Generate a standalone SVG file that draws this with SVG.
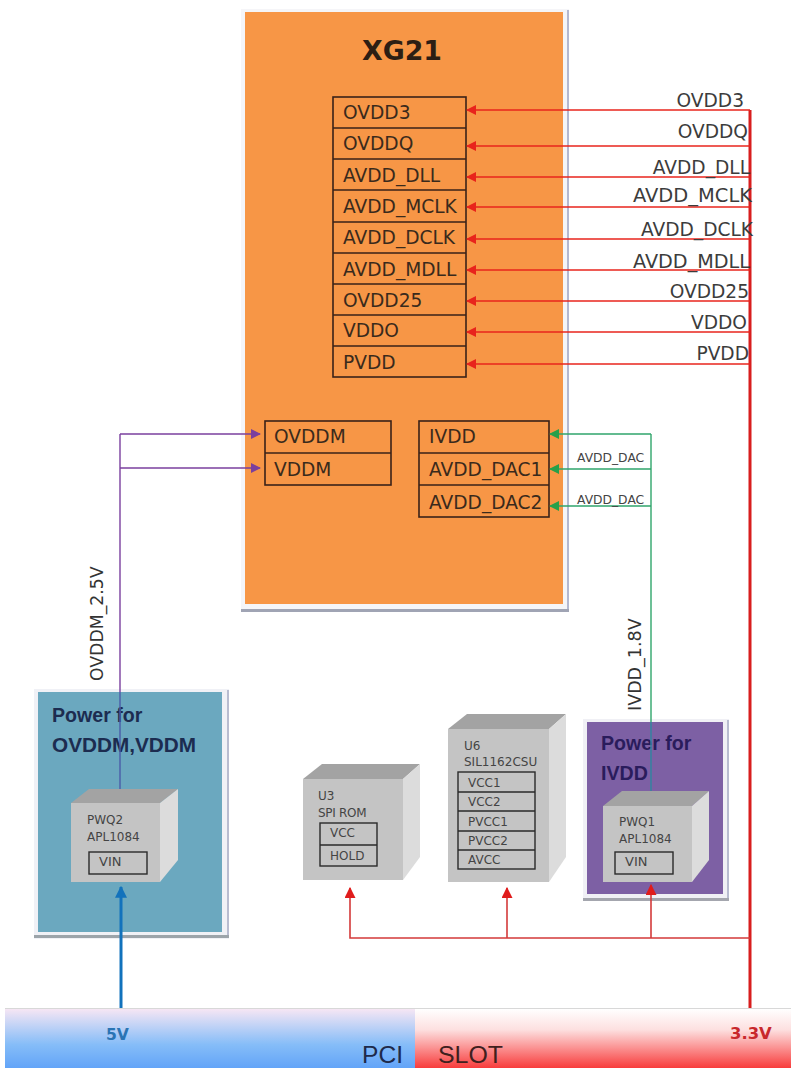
<svg xmlns="http://www.w3.org/2000/svg" width="791" height="1068" viewBox="0 0 791 1068">
<style>
text{font-family:"DejaVu Sans",Verdana,sans-serif;fill:#3a2a1c}
.cell{fill:none;stroke:#3a2218;stroke-width:1.6}
.t{font-size:18.6px}
.lab{font-size:18.6px;text-anchor:end;fill:#3c3c3c}
.sm{font-size:12px;fill:#444}
.dac{font-size:12.3px;fill:#444}
.front{fill:#c4c4c4}.top{fill:#a3a3a3}.side{fill:#dcdcdc}
.inner{fill:none;stroke:#2a2a2a;stroke-width:1.4}
.pw{font-family:"Liberation Sans",Arial,sans-serif;font-weight:bold;font-size:19.6px;fill:#1c2c50}
.red{stroke:#e8241c;stroke-width:1.6;fill:none}
.grn{stroke:#2fa56b;stroke-width:1.4;fill:none}
.pur{stroke:#7a3f9e;stroke-width:1.4;fill:none}
</style>
<defs>
<linearGradient id="gb" x1="0" y1="0" x2="0" y2="1"><stop offset="0" stop-color="#f6e6f4"/><stop offset="0.6" stop-color="#86bdf8"/><stop offset="1" stop-color="#62a4f8"/></linearGradient>
<linearGradient id="gr" x1="0" y1="0" x2="0" y2="1"><stop offset="0" stop-color="#ffffff"/><stop offset="0.35" stop-color="#fde0e0"/><stop offset="1" stop-color="#f83c3c"/></linearGradient>
<marker id="ar" viewBox="0 0 10 10" refX="9" refY="5" markerWidth="11" markerHeight="10" markerUnits="userSpaceOnUse" orient="auto"><path d="M0 0L10 5L0 10z" fill="#e8241c"/></marker>
<marker id="ag" viewBox="0 0 10 10" refX="9" refY="5" markerWidth="11" markerHeight="10" markerUnits="userSpaceOnUse" orient="auto"><path d="M0 0L10 5L0 10z" fill="#27a04a"/></marker>
<marker id="ap" viewBox="0 0 10 10" refX="9" refY="5" markerWidth="11" markerHeight="10" markerUnits="userSpaceOnUse" orient="auto"><path d="M0 0L10 5L0 10z" fill="#7a3f9e"/></marker>
<marker id="au" viewBox="0 0 10 10" refX="9" refY="5" markerWidth="11" markerHeight="11" markerUnits="userSpaceOnUse" orient="auto"><path d="M0 0L10 5L0 10z" fill="#e01c1c"/></marker>
<marker id="ab" viewBox="0 0 10 10" refX="9" refY="5" markerWidth="12" markerHeight="12" markerUnits="userSpaceOnUse" orient="auto"><path d="M0 0L10 5L0 10z" fill="#1272bc"/></marker>
</defs>
<rect width="791" height="1068" fill="#fff"/>

<g id="xg21">
<rect x="241" y="9" width="328" height="603" fill="#f5f5f8"/>
<rect x="567" y="10" width="2" height="602" fill="#b4b8d0"/>
<rect x="241" y="609" width="328" height="3" fill="#a0a4b4"/>
<rect x="245" y="12" width="318" height="592" fill="#f79646"/>
<text x="362" y="60" textLength="80" lengthAdjust="spacingAndGlyphs" style="font-weight:bold;font-size:27px;fill:#2c1e14">XG21</text>
</g>

<g id="supply-table">
<rect class="cell" x="333" y="97" width="133" height="280"/>
<path class="cell" d="M333 128H466M333 159H466M333 190H466M333 222H466M333 253H466M333 284H466M333 315H466M333 346H466"/>
<text class="t" x="343" y="119">OVDD3</text>
<text class="t" x="343" y="150">OVDDQ</text>
<text class="t" x="343" y="182">AVDD_DLL</text>
<text class="t" x="343" y="213">AVDD_MCLK</text>
<text class="t" x="343" y="244">AVDD_DCLK</text>
<text class="t" x="343" y="276">AVDD_MDLL</text>
<text class="t" x="343" y="307">OVDD25</text>
<text class="t" x="343" y="337">VDDO</text>
<text class="t" x="343" y="369">PVDD</text>
</g>

<g id="mem-table">
<rect class="cell" x="265" y="421" width="126" height="64"/>
<path class="cell" d="M265 453H391"/>
<text class="t" x="274" y="443">OVDDM</text>
<text class="t" x="274" y="476">VDDM</text>
</g>

<g id="dac-table">
<rect class="cell" x="419" y="421" width="130" height="96"/>
<path class="cell" d="M419 453H549M419 485H549"/>
<text class="t" x="429" y="443">IVDD</text>
<text class="t" x="429" y="476">AVDD_DAC1</text>
<text class="t" x="429" y="509">AVDD_DAC2</text>
</g>

<g id="power-ovddm">
<rect x="34" y="689" width="195" height="250" fill="#f0f1f6"/>
<rect x="227" y="690" width="2" height="248" fill="#b8bcd0"/>
<rect x="34" y="935" width="195" height="3" fill="#9ca4aa"/>
<rect x="38" y="692" width="184" height="240" fill="#6ba8bf"/>
<text class="pw" x="52" y="722">Power for</text>
<text class="pw" x="52" y="752" textLength="144" lengthAdjust="spacingAndGlyphs">OVDDM,VDDM</text>
<polygon class="top" points="71,803 89,789 178,789 160,803"/>
<polygon class="side" points="160,803 178,789 178,860 160,882"/>
<rect class="front" x="71" y="803" width="89" height="79"/>
<text class="sm" x="87" y="824">PWQ2</text>
<text class="sm" x="87" y="841">APL1084</text>
<rect class="inner" x="89" y="852" width="58" height="22"/>
<text class="sm" x="99" y="866" style="font-size:13px">VIN</text>
</g>

<g id="u3">
<polygon class="top" points="303,779 322,764 420,764 403,779"/>
<polygon class="side" points="403,779 420,764 420,857 403,880"/>
<rect class="front" x="303" y="779" width="100" height="101"/>
<text class="sm" x="318" y="800">U3</text>
<text class="sm" x="318" y="817" letter-spacing="-0.3">SPI ROM</text>
<rect class="inner" x="320" y="823" width="57" height="43"/>
<path class="inner" d="M320 845H377"/>
<text class="sm" x="330" y="837">VCC</text>
<text class="sm" x="330" y="860">HOLD</text>
</g>

<g id="u6">
<polygon class="top" points="448,729 467,714 566,714 549,729"/>
<polygon class="side" points="549,729 566,714 566,857 549,882"/>
<rect class="front" x="448" y="729" width="101" height="153"/>
<text class="sm" x="464" y="750">U6</text>
<text class="sm" x="464" y="766">SIL1162CSU</text>
<rect class="inner" x="458" y="772" width="77" height="97"/>
<path class="inner" d="M458 792H535M458 811H535M458 831H535M458 850H535"/>
<text class="sm" x="468" y="787">VCC1</text>
<text class="sm" x="468" y="806">VCC2</text>
<text class="sm" x="468" y="826">PVCC1</text>
<text class="sm" x="468" y="845">PVCC2</text>
<text class="sm" x="468" y="864">AVCC</text>
</g>

<g id="power-ivdd">
<rect x="583" y="719" width="146" height="182" fill="#f0f0f5"/>
<rect x="727" y="720" width="2" height="181" fill="#b8bcd0"/>
<rect x="583" y="898" width="146" height="3" fill="#a4a6ae"/>
<rect x="587" y="722" width="136" height="172" fill="#7d60a4"/>
<text class="pw" x="601" y="750" style="fill:#2a1c5c">Power for</text>
<text class="pw" x="601" y="780" style="fill:#2a1c5c">IVDD</text>
<polygon class="top" points="603,806 622,791 709,791 692,806"/>
<polygon class="side" points="692,806 709,791 709,860 692,882"/>
<rect class="front" x="603" y="806" width="89" height="76"/>
<text class="sm" x="619" y="826">PWQ1</text>
<text class="sm" x="619" y="843">APL1084</text>
<rect class="inner" x="615" y="852" width="58" height="22"/>
<text class="sm" x="625" y="866" style="font-size:13px">VIN</text>
</g>

<g id="connectors">
<path d="M750 110V1010" stroke="#d81e1e" stroke-width="3" fill="none"/>
<path class="red" marker-end="url(#ar)" d="M750 110H467"/>
<path class="red" marker-end="url(#ar)" d="M750 146H467"/>
<path class="red" marker-end="url(#ar)" d="M750 177H467"/>
<path class="red" marker-end="url(#ar)" d="M750 207H467"/>
<path class="red" marker-end="url(#ar)" d="M750 239H467"/>
<path class="red" marker-end="url(#ar)" d="M750 270H467"/>
<path class="red" marker-end="url(#ar)" d="M750 301H467"/>
<path class="red" marker-end="url(#ar)" d="M750 332H467"/>
<path class="red" marker-end="url(#ar)" d="M750 364H467"/>
<path class="pur" d="M120 434V692"/>
<path d="M120 692V789" stroke="#4a5ca8" stroke-width="1.4" fill="none"/>
<path class="pur" marker-end="url(#ap)" d="M120 434H260"/>
<path class="pur" marker-end="url(#ap)" d="M120 468H260"/>
<path class="grn" d="M651 434V722"/>
<path d="M651 722V791" stroke="#2f86a0" stroke-width="1.4" fill="none"/>
<path class="grn" marker-end="url(#ag)" d="M651 434H550"/>
<path class="grn" marker-end="url(#ag)" d="M651 469H550"/>
<path class="grn" marker-end="url(#ag)" d="M651 506H550"/>
<path d="M121 1010V887" stroke="#1272bc" stroke-width="3" fill="none" marker-end="url(#ab)"/>
<path d="M750 938H350V888" stroke="#d43a3a" stroke-width="1.6" fill="none" marker-end="url(#au)"/>
<path d="M507 938V888" stroke="#d43a3a" stroke-width="1.6" fill="none" marker-end="url(#au)"/>
<path d="M651 938V885" stroke="#d43a3a" stroke-width="1.6" fill="none" marker-end="url(#au)"/>
<text class="lab" x="744" y="107">OVDD3</text>
<text class="lab" x="748" y="138">OVDDQ</text>
<text class="lab" x="750" y="174">AVDD_DLL</text>
<text class="lab" x="752" y="202" textLength="119" lengthAdjust="spacingAndGlyphs">AVDD_MCLK</text>
<text class="lab" x="753" y="236">AVDD_DCLK</text>
<text class="lab" x="750" y="268" textLength="117" lengthAdjust="spacingAndGlyphs">AVDD_MDLL</text>
<text class="lab" x="749" y="298">OVDD25</text>
<text class="lab" x="747" y="329">VDDO</text>
<text class="lab" x="749" y="360">PVDD</text>
<text class="dac" x="577" y="462">AVDD_DAC</text>
<text class="dac" x="577" y="504">AVDD_DAC</text>
<text transform="translate(103 681) rotate(-90)" style="font-size:17.3px;fill:#333">OVDDM_2.5V</text>
<text transform="translate(641 711) rotate(-90)" style="font-size:17.5px;fill:#333">IVDD_1.8V</text>
</g>

<g id="pci-slot">
<rect x="5" y="1009" width="410" height="59" fill="url(#gb)"/>
<rect x="415" y="1009" width="376" height="59" fill="url(#gr)"/>
<rect x="5" y="1008" width="786" height="1" fill="#d8d8d8"/>
<text x="106" y="1040" style="font-weight:bold;font-size:15.6px;fill:#2a74b4">5V</text>
<text x="730" y="1039" style="font-weight:bold;font-size:16.4px;fill:#c8282c">3.3V</text>
<text x="362" y="1063" textLength="41" lengthAdjust="spacingAndGlyphs" style="font-family:'Liberation Sans',Arial,sans-serif;font-size:24px;fill:#1e2a4a">PCI</text>
<text x="438" y="1063" textLength="65" lengthAdjust="spacingAndGlyphs" style="font-family:'Liberation Sans',Arial,sans-serif;font-size:24px;fill:#40201e">SLOT</text>
</g>
</svg>
